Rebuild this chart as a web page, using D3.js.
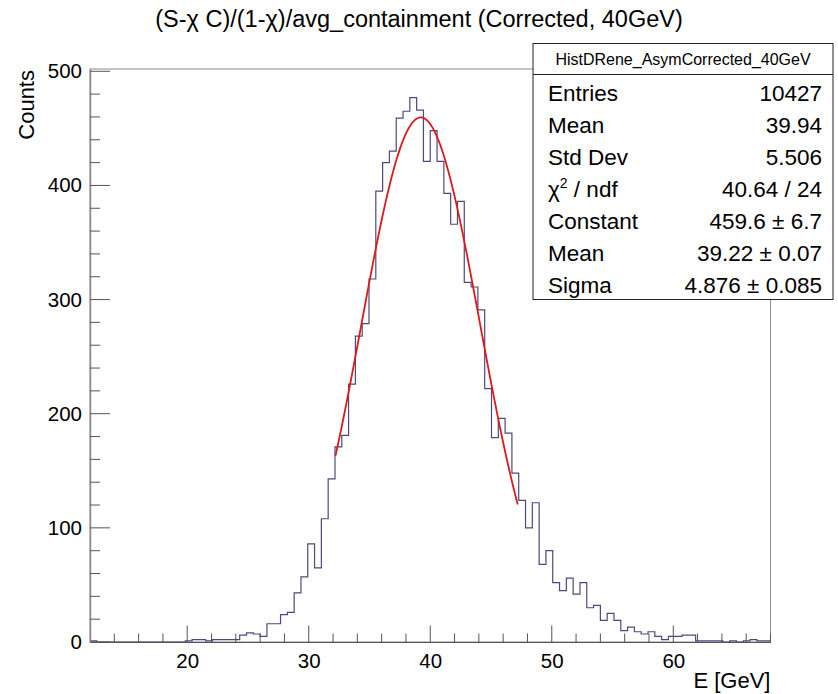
<!DOCTYPE html>
<html>
<head>
<meta charset="utf-8">
<script src="https://cdn.jsdelivr.net/npm/d3@7/dist/d3.min.js"></script>
<style>
html,body{margin:0;padding:0;background:#fff;}
svg{display:block;font-family:"Liberation Sans",Arial,Helvetica,sans-serif;}
</style>
</head>
<body>
<svg id="chart" width="838" height="694"></svg>
<script>
// ---- data ----
const binLow = 12, binHigh = 68, nBins = 100;
const counts = [
  1,0,0,0,0,0,0,0,0,0,
  0,0,0,0,1,2,2,1,2,2,
  2,2,6,8,7,5,16,16,24,26,
  43,57,86,65,108,143,171,181,226,268,
  279,318,395,420,430,459,465,477,466,421,
  448,421,393,366,386,315,311,291,222,179,
  196,183,148,124,100,122,68,80,52,45,
  56,42,52,30,32,19,25,19,10,13,
  9,7,9,5,2,5,5,6,6,1,
  1,1,1,0,1,0,1,2,1,1
];
const xTicks = [20, 30, 40, 50, 60];
const yTicks = [0, 100, 200, 300, 400, 500];
const fitConstant = 459.6, fitMean = 39.22, fitSigma = 4.876;
const fitRange = [32.2, 47.2];
const title = "(S-\u03C7 C)/(1-\u03C7)/avg_containment (Corrected, 40GeV)";
const xLabel = "E [GeV]", yLabel = "Counts";
const statsName = "HistDRene_AsymCorrected_40GeV";
const statsRows = [
  ["Entries", "10427"],
  ["Mean", "39.94"],
  ["Std Dev", "5.506"],
  ["CHI2", "40.64 / 24"],
  ["Constant", "459.6 \u00B1 6.7"],
  ["Mean", "39.22 \u00B1 0.07"],
  ["Sigma", "4.876 \u00B1 0.085"]
];

// ---- layout ----
const svg = d3.select("#chart");
const L = 90, R = 770.5, T = 69, B = 642;
const x = d3.scaleLinear().domain([binLow, binHigh]).range([L, R]);
const y = d3.scaleLinear().domain([0, 502]).range([B, T]);

// frame
svg.append("rect").attr("x", L).attr("y", T).attr("width", R - L).attr("height", B - T)
  .attr("fill", "none").attr("stroke", "#8c8c8c").attr("stroke-width", 1);

// histogram
const bw = (binHigh - binLow) / nBins;
const pts = counts.map((c, i) => [binLow + i * bw, c]);
pts.push([binHigh, counts[counts.length - 1]]);
svg.append("path")
  .attr("d", d3.line().x(d => x(d[0])).y(d => y(d[1])).curve(d3.curveStepAfter)(pts))
  .attr("fill", "none").attr("stroke", "#4a4a80").attr("stroke-width", 1.2);

// fit
const gaus = v => fitConstant * Math.exp(-0.5 * Math.pow((v - fitMean) / fitSigma, 2));
const fx = d3.range(0, 201).map(i => fitRange[0] + (fitRange[1] - fitRange[0]) * i / 200);
svg.append("path")
  .attr("d", d3.line().x(d => x(d)).y(d => y(gaus(d)))(fx))
  .attr("fill", "none").attr("stroke", "#dc1a1a").attr("stroke-width", 1.8);

// x axis
const xAxis = d3.axisBottom(x).tickValues(xTicks).tickSize(0).tickFormat(d3.format("d"));
const gx = svg.append("g").attr("transform", `translate(0,${B})`).call(xAxis);
gx.select(".domain").attr("stroke", "#555").attr("stroke-width", 1.2);
gx.selectAll("text").attr("font-size", 20.5).attr("fill", "#000").attr("dy", "0").attr("y", 26)
  .attr("font-family", "Liberation Sans, Arial, sans-serif");
const xMinor = d3.range(14, 68.01, 2);
svg.append("g").selectAll("line").data(xMinor).join("line")
  .attr("x1", d => x(d)).attr("x2", d => x(d))
  .attr("y1", B).attr("y2", d => B - (d % 10 === 0 ? 16.5 : 8.5))
  .attr("stroke", "#555").attr("stroke-width", 1);

// y axis
const yAxis = d3.axisLeft(y).tickValues(yTicks).tickSize(0).tickPadding(8);
const gy = svg.append("g").attr("transform", `translate(${L},0)`).call(yAxis);
gy.select(".domain").attr("stroke", "#8c8c8c").attr("stroke-width", 1.5);
gy.selectAll("text").attr("font-size", 20.5).attr("fill", "#000")
  .attr("font-family", "Liberation Sans, Arial, sans-serif");
const yMinor = d3.range(0, 501, 20);
svg.append("g").selectAll("line").data(yMinor).join("line")
  .attr("x1", L).attr("x2", d => L + (d % 100 === 0 ? 20 : 10))
  .attr("y1", d => y(d)).attr("y2", d => y(d))
  .attr("stroke", "#555").attr("stroke-width", 1);

// title & labels
svg.append("text").attr("x", 419).attr("y", 27).attr("text-anchor", "middle")
  .attr("font-size", 23.5).text(title);
svg.append("text").attr("x", R).attr("y", 688).attr("text-anchor", "end")
  .attr("font-size", 22).text(xLabel);
svg.append("text").attr("transform", `translate(34,${T + 1}) rotate(-90)`).attr("text-anchor", "end")
  .attr("font-size", 22).text(yLabel);

// stats box
const SX = 533, SY = 43.5, SW = 300, SH = 256;
svg.append("rect").attr("x", SX).attr("y", SY).attr("width", SW).attr("height", SH)
  .attr("fill", "#fff").attr("stroke", "#222").attr("stroke-width", 1);
svg.append("line").attr("x1", SX).attr("x2", SX + SW).attr("y1", 74.5).attr("y2", 74.5)
  .attr("stroke", "#222").attr("stroke-width", 1);
svg.append("text").attr("x", SX + SW / 2).attr("y", 65).attr("text-anchor", "middle")
  .attr("font-size", 16).text(statsName);
statsRows.forEach((r, i) => {
  const yy = 101 + i * 32;
  const t = svg.append("text").attr("x", 548).attr("y", yy).attr("font-size", 22.5);
  if (r[0] === "CHI2") {
    t.append("tspan").text("\u03C7");
    t.append("tspan").attr("font-size", 14).attr("dy", -9).text("2");
    t.append("tspan").attr("dy", 9).text(" / ndf");
  } else t.text(r[0]);
  svg.append("text").attr("x", 822).attr("y", yy).attr("text-anchor", "end")
    .attr("font-size", 22.5).text(r[1]);
});
</script>
</body>
</html>
